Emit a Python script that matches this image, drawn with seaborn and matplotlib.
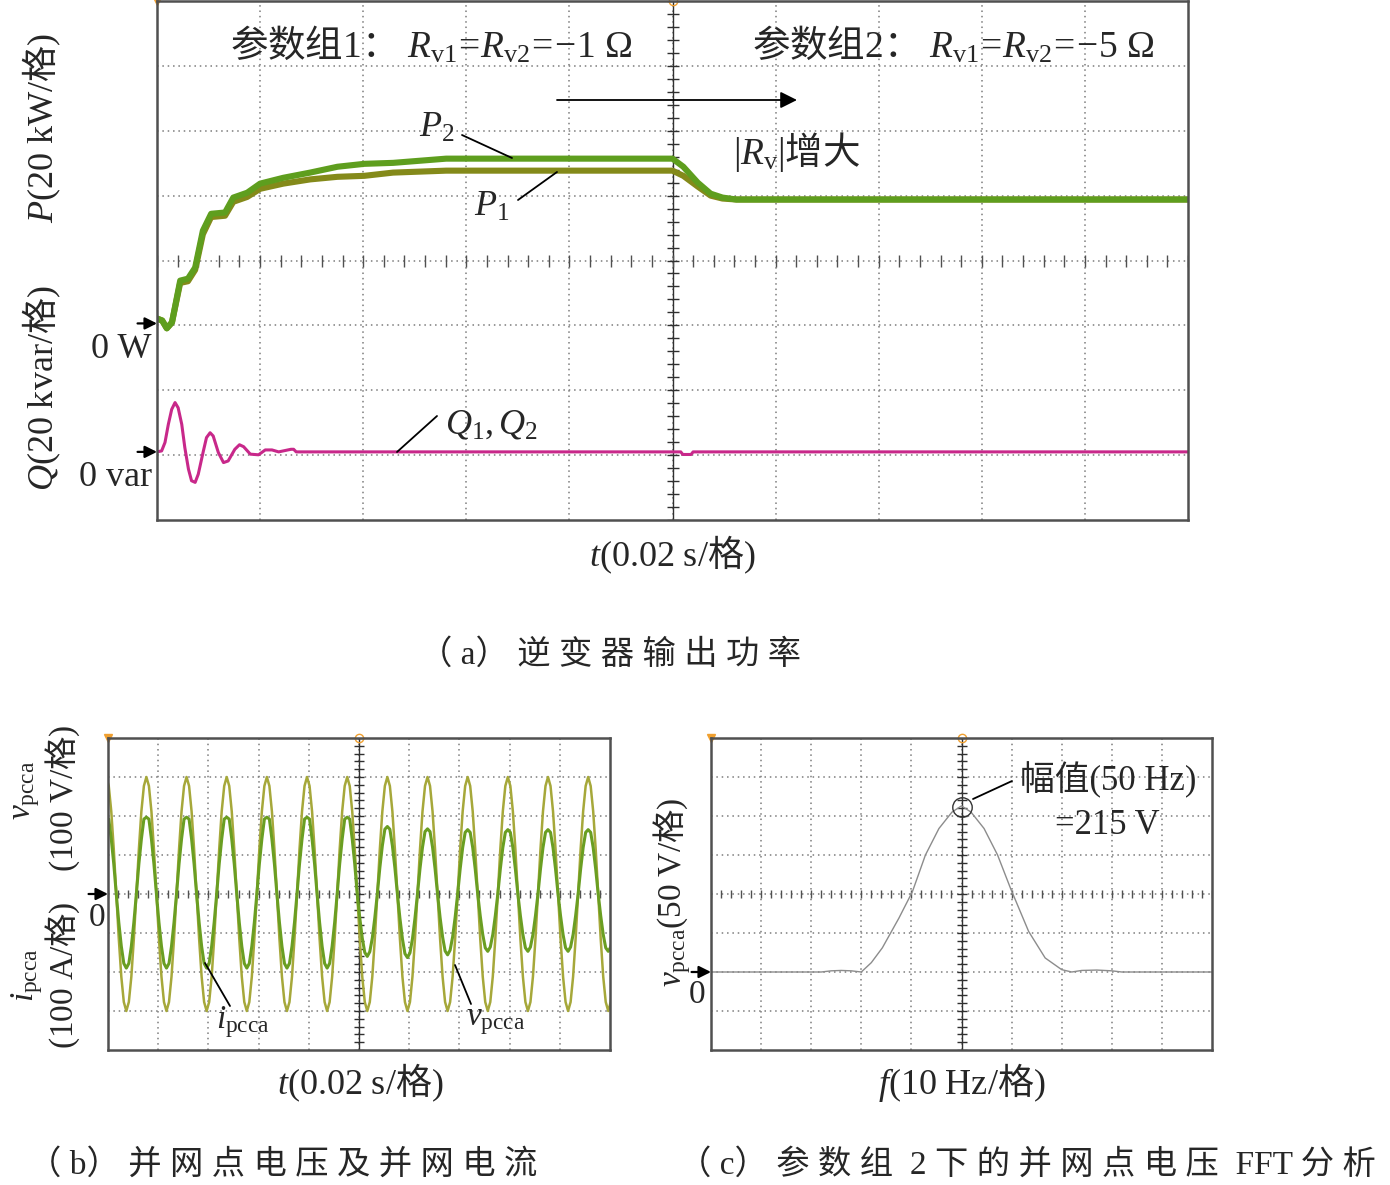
import numpy as np
import matplotlib
matplotlib.use("Agg")
import matplotlib.pyplot as plt
from matplotlib.lines import Line2D
import seaborn as sns

W, H = 1390, 1185

# ---------------- data ----------------
# (a) inverter output power, time in ms (0.02 s per division)
P_TIME = [0, 1.0, 1.9, 2.9, 4.5, 6.0, 7.4, 8.9, 10.5, 13.2, 14.8, 17.5, 20.0, 24.5,
          29.7, 35.0, 40.2, 45.8, 56.1, 100.0, 102.1, 104.9, 107.4, 109.7, 112.4, 200.0]
P2_KW = [1.5, 0.9, -1.5, 0.3, 13.2, 13.8, 17.2, 28.6, 33.8, 34.2, 38.8, 40.3, 43.1, 44.9,
         46.5, 48.3, 49.2, 49.5, 50.8, 50.8, 48.3, 43.4, 40.0, 38.8, 38.2, 38.2]
P1_KW = [1.5, 0.9, -1.5, 0.3, 12.5, 13.0, 16.5, 27.5, 32.8, 33.2, 37.5, 39.0, 41.5, 43.1,
         44.4, 45.2, 45.5, 46.5, 47.1, 47.1, 45.5, 42.2, 39.4, 38.5, 38.2, 38.2]
Q_TIME = [0, 0.9, 1.55, 2.2, 2.85, 3.5, 4.1, 4.8, 5.4, 6.1, 6.7, 7.4, 8.0, 9.0, 9.6, 10.3,
          10.9, 11.9, 12.9, 13.8, 15.1, 16.0, 16.8, 18.1, 19.7, 21.0, 22.3, 23.6, 26.0,
          26.5, 27.0, 100.0, 101.6, 102.0, 103.6, 104.0, 200.0]
Q_KVAR = [0, 0.3, 2.9, 8.5, 13.1, 15.2, 13.6, 8.5, 1.3, -5.3, -8.9, -9.4, -6.9, 0.3, 4.4, 5.9,
          4.9, -0.2, -3.3, -2.8, 0.8, 2.2, 1.6, -0.7, -0.9, 0.6, 0.6, 0, 0.8,
          0.8, 0, 0, 0, -0.8, -0.8, 0, 0]
P_ZERO_DIV, Q_ZERO_DIV = 3.03, 1.05   # zero markers (divisions from bottom)
P_PER_DIV, Q_PER_DIV = 20, 20        # kW/div, kvar/div

# (b) PCC voltage / current, samples every 1 ms from -0.7 ms
WAVE_T0, WAVE_DT = -0.7, 1.0
V_PCCA = [
    300, 277, 212, 115, 0, -115, -212, -277, -300, -277, -212, -115, 0, 115, 212, 277,
    300, 277, 212, 115, 0, -115, -212, -277, -300, -277, -212, -115, 0, 115, 212, 277,
    300, 277, 212, 115, 0, -115, -212, -277, -300, -277, -212, -115, 0, 115, 212, 277,
    300, 277, 212, 115, 0, -115, -212, -277, -300, -277, -212, -115, 0, 115, 212, 277,
    300, 277, 212, 115, 0, -115, -212, -277, -300, -277, -212, -115, 0, 115, 212, 277,
    300, 277, 212, 115, 0, -115, -212, -277, -300, -277, -212, -115, 0, 115, 212, 277,
    300, 277, 212, 115, 0, -115, -212, -277, -300, -277, -212, -115, 0, 115, 212, 277,
    300, 277, 212, 115, 0, -115, -212, -277, -300, -277, -212, -115, 0, 115, 212, 277,
    300, 277, 212, 115, 0, -115, -212, -277, -300, -277, -212, -115, 0, 115, 212, 277,
    300, 277, 212, 115, 0, -115, -212, -277, -300, -277, -212, -115, 0, 115, 212, 277,
    300, 277, 212, 115, 0, -115, -212, -277, -300, -277, -212, -115, 0, 115, 212, 277,
    300, 277, 212, 115, 0, -115, -212, -277, -300, -277, -212, -115, 0, 115, 212, 277,
    300, 277, 212, 115, 0, -115, -212, -277, -300, -277, -212, -115, 0, 115, 212, 277,
]
I_PCCA = [
    197, 192, 141, 77, 0, -73, -134, -178, -190, -178, -134, -73, 0, 77, 141, 192,
    197, 192, 141, 77, 0, -73, -134, -178, -190, -178, -134, -73, 0, 77, 141, 192,
    197, 192, 141, 77, 0, -73, -134, -178, -190, -178, -134, -73, 0, 77, 141, 192,
    197, 192, 141, 77, 0, -73, -134, -178, -190, -178, -134, -73, 0, 77, 141, 192,
    197, 192, 141, 77, 0, -73, -134, -178, -190, -178, -134, -73, 0, 77, 141, 192,
    197, 192, 141, 77, 0, -73, -134, -178, -190, -178, -134, -73, 0, 77, 141, 192,
    197, 192, 141, 77, 0, -61, -113, -150, -160, -148, -113, -61, 0, 67, 124, 166,
    173, 166, 124, 67, 0, -62, -115, -153, -163, -151, -115, -62, 0, 65, 120, 160,
    167, 160, 120, 65, 0, -60, -110, -146, -156, -144, -110, -60, 0, 64, 119, 158,
    165, 158, 119, 64, 0, -56, -104, -138, -147, -136, -104, -56, 0, 64, 119, 158,
    165, 158, 119, 64, 0, -56, -104, -138, -147, -136, -104, -56, 0, 64, 119, 158,
    165, 158, 119, 64, 0, -56, -104, -138, -147, -136, -104, -56, 0, 64, 119, 158,
    165, 158, 119, 64, 0, -56, -104, -138, -147, -136, -104, -56, 0, 64, 119, 158,
]

# (c) FFT of PCC voltage under parameter set 2
FFT_HZ = [0, 22, 24, 26, 28, 30, 32, 34.2, 37.5, 40.2, 42.8, 45.5, 48.1, 50, 51.9, 54.5,
          57.2, 59.8, 63.4, 66.7, 70, 72, 74, 77, 80, 82, 100]
FFT_V = [0, 0, 1.5, 2, 1.5, 0, 12, 31, 69, 103, 150, 184, 205, 213, 205, 184,
         150, 107, 52, 18, 3, 0, 2, 2.5, 1.5, 0, 0]
PEAK_HZ = [50]
PEAK_V = [211]

# ---------------- style ----------------
sns.set_theme(style="white")
plt.rcParams["font.family"] = ["Liberation Serif", "Noto Sans CJK SC"]
plt.rcParams.update({
    "mathtext.fontset": "custom",
    "mathtext.rm": "Liberation Serif",
    "mathtext.it": "Liberation Serif:italic",
    "mathtext.bf": "Liberation Serif:bold",
    "mathtext.sf": "Noto Sans CJK SC",
})

fig = plt.figure(figsize=(W / 100, H / 100), dpi=100)


def box(x0, y0, x1, y1):
    return fig.add_axes([x0 / W, 1 - y1 / H, (x1 - x0) / W, (y1 - y0) / H])


def ftext(px, py, s, **kw):
    return fig.text(px / W, 1 - py / H, s, **kw)


def leader(x0, y0, x1, y1):
    fig.add_artist(Line2D([x0 / W, x1 / W], [1 - y0 / H, 1 - y1 / H],
                          transform=fig.transFigure, color="black", lw=1.3))


def scope(ax, xlim, ylim, hx, vy, nx=10, ny=8):
    x0, x1 = xlim
    y0, y1 = ylim
    ax.set_xlim(xlim)
    ax.set_ylim(ylim)
    ax.set_xticks(np.linspace(x0, x1, nx + 1)[1:-1])
    ax.set_yticks(np.linspace(y0, y1, ny + 1)[1:-1])
    ax.tick_params(length=0, labelbottom=False, labelleft=False)
    ax.grid(True, color="#7c7c7c", linestyle=(0, (1, 2.5)), linewidth=1.1)
    for s in ax.spines.values():
        s.set_color("#505050")
        s.set_linewidth(1.8)
    xc, yc = (x0 + x1) / 2, (y0 + y1) / 2
    ax.axvline(xc, color="#303030", lw=1.0, zorder=1.5)
    tx = np.arange(x0, x1 + 1e-9, (x1 - x0) / nx / 5)
    ty = np.arange(y0, y1 + 1e-9, (y1 - y0) / ny / 5)
    ax.plot(tx, np.full_like(tx, yc), ls="none", marker="|", ms=hx, mew=1.0,
            color="#505050", zorder=1.6)
    ax.plot(np.full_like(ty, xc), ty, ls="none", marker="_", ms=vy, mew=1.0,
            color="#303030", zorder=1.6)
    ax.plot([x0], [y1], ls="none", marker="v", ms=6, color="#f0a030", clip_on=False)
    ax.plot([xc], [y1], ls="none", marker="o", ms=6, mfc="none", mec="#f0a030",
            clip_on=False)


def zero_arrow(ax, y):
    ax.annotate("", xy=(0, y), xycoords=("axes fraction", "data"),
                xytext=(-14, 0), textcoords="offset points",
                arrowprops=dict(arrowstyle="-|>", color="black", lw=1.6,
                                mutation_scale=18, shrinkA=0, shrinkB=0))


def spread(s):
    out = ""
    for ch in s:
        out += ch
        if ord(ch) > 0x2e80:
            out += " "
    return out.rstrip()


# ---------------- (a) ----------------
ax_a = box(157, 1, 1188, 520)
scope(ax_a, (0, 200), (0, 8), hx=8, vy=9)
p1 = P_ZERO_DIV + np.array(P1_KW) / P_PER_DIV
p2 = P_ZERO_DIV + np.array(P2_KW) / P_PER_DIV
q = Q_ZERO_DIV + np.array(Q_KVAR) / Q_PER_DIV
sns.lineplot(x=P_TIME, y=p1, ax=ax_a, color="#848a1a", lw=4.4, estimator=None, sort=False)
sns.lineplot(x=P_TIME, y=p2, ax=ax_a, color="#5e9e1e", lw=4.4, estimator=None, sort=False)
sns.lineplot(x=Q_TIME, y=q, ax=ax_a, color="#c8288a", lw=2.2, estimator=None, sort=False)
zero_arrow(ax_a, P_ZERO_DIV)
zero_arrow(ax_a, Q_ZERO_DIV)

ftext(230, 45, r"$\mathsf{参数组}1\mathsf{：}\ R_{\mathrm{v1}}\!=\!R_{\mathrm{v2}}\!=\!\!-\!1\ \Omega$",
      fontsize=27, ha="left", va="center")
ftext(752, 45, r"$\mathsf{参数组}2\mathsf{：}\ R_{\mathrm{v1}}\!=\!R_{\mathrm{v2}}\!=\!\!-\!5\ \Omega$",
      fontsize=27, ha="left", va="center")
ax_a.annotate("", xy=(797 / W, 1 - 100 / H), xycoords="figure fraction",
              xytext=(557 / W, 1 - 100 / H), textcoords="figure fraction",
              arrowprops=dict(arrowstyle="-|>", color="black", lw=1.3,
                              mutation_scale=25, shrinkA=0, shrinkB=0))
ftext(733, 152, r"$|R_{\mathrm{v}}|\mathsf{增大}$", fontsize=27, ha="left", va="center")
ftext(437, 128, r"$P_2$", fontsize=26, ha="center", va="center")
ftext(492, 207, r"$P_1$", fontsize=26, ha="center", va="center")
ftext(492, 425, r"$Q_1,Q_2$", fontsize=26, ha="center", va="center")
leader(462, 135, 512, 158)
leader(518, 200, 557, 172)
leader(397, 452, 437, 416)
ftext(152, 350, "0 W", fontsize=26, ha="right", va="center")
ftext(152, 478, "0 var", fontsize=26, ha="right", va="center")
ftext(42, 128, r"$P(20\ \mathrm{kW}/\mathsf{格})$", fontsize=26, rotation=90,
      ha="center", va="center")
ftext(42, 388, r"$Q(20\ \mathrm{kvar}/\mathsf{格})$", fontsize=26, rotation=90,
      ha="center", va="center")
ftext(672, 555, r"$t(0.02\ \mathrm{s}/\mathsf{格})$", fontsize=26, ha="center", va="center")
ftext(610, 655, spread("（a）逆变器输出功率"), fontsize=24, ha="center", va="center")

# ---------------- (b) ----------------
ax_b = box(108, 738, 610, 1050)
scope(ax_b, (0, 200), (-400, 400), hx=6, vy=7)
t_wave = WAVE_T0 + WAVE_DT * np.arange(len(V_PCCA))
sns.lineplot(x=t_wave, y=V_PCCA, ax=ax_b, color="#a6a83a", lw=1.8, estimator=None, sort=False)
sns.lineplot(x=t_wave, y=I_PCCA, ax=ax_b, color="#6a9e22", lw=2.2, estimator=None, sort=False)
zero_arrow(ax_b, 0)
ftext(97, 918, "0", fontsize=24, ha="center", va="center")
ftext(27, 790, r"$v_{\mathrm{pcca}}$", fontsize=24, rotation=90, ha="center", va="center")
ftext(63, 798, r"$(100\ \mathrm{V}/\mathsf{格})$", fontsize=24, rotation=90,
      ha="center", va="center")
ftext(27, 975, r"$i_{\mathrm{pcca}}$", fontsize=24, rotation=90, ha="center", va="center")
ftext(63, 975, r"$(100\ \mathrm{A}/\mathsf{格})$", fontsize=24, rotation=90,
      ha="center", va="center")
ftext(243, 1022, r"$i_{\mathrm{pcca}}$", fontsize=24, ha="center", va="center")
ftext(496, 1022, r"$v_{\mathrm{pcca}}$", fontsize=24, ha="center", va="center")
leader(205, 963, 230, 1006)
leader(455, 965, 471, 1004)
ftext(360, 1083, r"$t(0.02\ \mathrm{s}/\mathsf{格})$", fontsize=26, ha="center", va="center")
ftext(283, 1165, spread("（b）并网点电压及并网电流"), fontsize=24, ha="center", va="center")

# ---------------- (c) ----------------
ax_c = box(711, 738, 1212, 1050)
scope(ax_c, (0, 100), (-100, 300), hx=6, vy=7)
sns.lineplot(x=FFT_HZ, y=FFT_V, ax=ax_c, color="#8c8c8c", lw=1.0, estimator=None, sort=False)
ax_c.plot(PEAK_HZ, PEAK_V, ls="none", marker="o", ms=14, mfc="none", mec="#333333", mew=1.0)
zero_arrow(ax_c, 0)
ftext(697, 995, "0", fontsize=24, ha="center", va="center")
ftext(672, 892, r"$v_{\mathrm{pcca}}(50\ \mathrm{V}/\mathsf{格})$", fontsize=24, rotation=90,
      ha="center", va="center")
leader(973, 799, 1012, 781)
ftext(1020, 780, "幅值(50 Hz)", fontsize=25, ha="left", va="center")
ftext(1055, 826, "=215 V", fontsize=25, ha="left", va="center")
ftext(962, 1083, r"$f(10\ \mathrm{Hz}/\mathsf{格})$", fontsize=26, ha="center", va="center")
ftext(1027, 1165, spread("（c）参数组 2 下的并网点电压 FFT 分析"), fontsize=24,
      ha="center", va="center")

fig.savefig("out.png", dpi=100)
